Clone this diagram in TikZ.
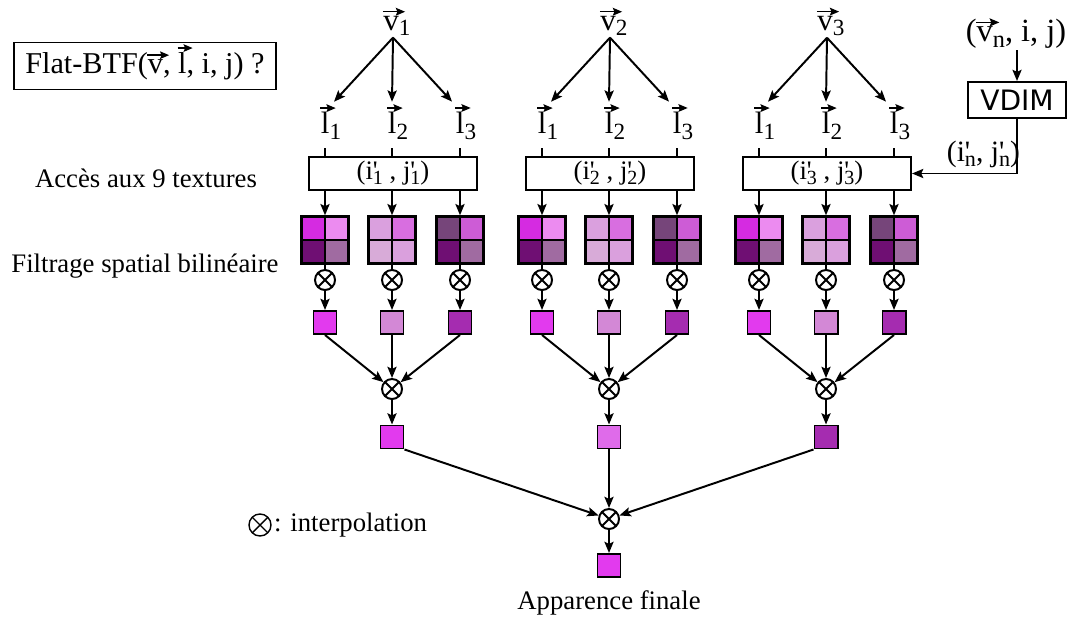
\documentclass[tikz,border=0pt]{standalone}
\usepackage{fontspec}
\setmainfont{Liberation Serif}
\newfontfamily\vdimfont{DejaVu Sans}
\usetikzlibrary{arrows.meta, positioning, calc}
\definecolor{texAa}{HTML}{D52BE1}
\definecolor{texAb}{HTML}{EC8BF0}
\definecolor{texAc}{HTML}{6F0F73}
\definecolor{texAd}{HTML}{A06BA1}
\definecolor{texBa}{HTML}{DAA0DE}
\definecolor{texBb}{HTML}{D86EE0}
\definecolor{texBc}{HTML}{D8ABD8}
\definecolor{texBd}{HTML}{DAA0DD}
\definecolor{texCa}{HTML}{76457A}
\definecolor{texCb}{HTML}{CD5CD6}
\definecolor{sqA}{HTML}{E23AEE}
\definecolor{sqB}{HTML}{D388D6}
\definecolor{sqC}{HTML}{A52CB0}
\definecolor{sqM}{HTML}{DF6BEA}
% letter with an arrow above it, a lowered index, a primed index
\newcommand{\vecarrow}[1]{\tikz[baseline=(ltr.base)]{\node[rectangle, inner sep=0pt, outer sep=0pt, minimum size=0pt, draw=none, fill=none, anchor=base] (ltr) at (0,0) {#1};
  \draw[overlay, line width=0.045em, -{Stealth[length=0.3em, width=0.25em, inset=0.05em]}] ([yshift=0.14em, xshift=-0.02em]ltr.north west) -- ([yshift=0.14em, xshift=0.2em]ltr.north east);}}
\newcommand{\idx}[1]{\raisebox{-0.4ex}{\scalebox{0.75}{#1}}}
\newcommand{\pidx}[2]{#1\rlap{\textquotesingle}\idx{#2}}
\tikzset{
  every picture/.style={line width=1.4pt},
  arrow/.style={-{Stealth[length=8pt, width=6.5pt, inset=1.5pt]}},
  lbl/.style={font=\fontsize{22}{26}\selectfont, inner sep=1pt},
  txt/.style={font=\fontsize{19}{22}\selectfont},
  coordbox/.style={draw, minimum width=4.2cm, minimum height=0.825cm, inner sep=0pt, font=\fontsize{19}{22}\selectfont},
  otimes/.style={circle, draw, fill=white, minimum size=0.5cm, inner sep=0pt,
    path picture={\draw (path picture bounding box.north west) -- (path picture bounding box.south east)
      (path picture bounding box.north east) -- (path picture bounding box.south west);}},
  sq/.style={draw, fill=#1, minimum size=0.575cm, inner sep=0pt},
  tex/.style n args={4}{draw, line width=1.7pt, minimum size=1.175cm, inner sep=0pt,
    path picture={
      \fill[#1] (path picture bounding box.north west) rectangle (path picture bounding box.center);
      \fill[#2] (path picture bounding box.north east) rectangle (path picture bounding box.center);
      \fill[#3] (path picture bounding box.south west) rectangle (path picture bounding box.center);
      \fill[#4] (path picture bounding box.south east) rectangle (path picture bounding box.center);
      \draw (path picture bounding box.north) -- (path picture bounding box.south)
        (path picture bounding box.west) -- (path picture bounding box.east);}},
  texA/.style={tex={texAa}{texAb}{texAc}{texAd}},
  texB/.style={tex={texBa}{texBb}{texBc}{texBd}},
  texC/.style={tex={texCa}{texCb}{texAc}{texAd}},
}
\begin{document}
\begin{tikzpicture}[x=0.025cm, y=-0.025cm]
  \useasboundingbox (0,0) rectangle (1070,618);
  \node[draw, minimum width=6.55cm, minimum height=1.175cm, font=\fontsize{21.5}{25}\selectfont] (query) at (145,66) {Flat-BTF(\vecarrow{v}, \vecarrow{l}, i, j) ?};
  \node[txt] (acces) at (146,178) {Accès aux 9 textures};
  \node[txt] (filtre) at (145,266) {Filtrage spatial bilinéaire};
  \node[otimes, minimum size=0.55cm, line width=1pt] (legsym) at (260,525) {};
  \node[txt, right=0pt of legsym, inner sep=1pt] (legend) {: interpolation};
  \foreach \g/\cx/\rc in {1/392/sqA, 2/609/sqM, 3/826/sqC} {
    \node[lbl] (v\g) at (\cx+5,26) {\vecarrow{v}\idx{\g}};
    \node[coordbox] (b\g) at (\cx+1,173.5) {(\pidx{i}{\g} , \pidx{j}{\g})};
    \node[otimes] (m\g) at (\cx,389) {};
    \node[sq=\rc] (r\g) at (\cx,437) {};
    \foreach \k/\dx/\ex/\tx/\sx in {1/-67/9/texA/sqA, 2/0/0/texB/sqB, 3/68/-8/texC/sqC} {
      \node[lbl] (l\g\k) at (\cx+\dx+6,126) {\vecarrow{l}\idx{\k}};
      \coordinate (q\g\k) at (\cx+\dx,148);
      \node[\tx] (t\g\k) at (\cx+\dx,240) {};
      \node[otimes] (c\g\k) at (\cx+\dx,280) {};
      \node[sq=\sx] (s\g\k) at (\cx+\dx,322.5) {};
      \draw[arrow] (v\g.south -| b\g.north) -- ($(q\g\k |- l\g\k.north)+(\ex,-9)$);
      \draw (q\g\k) -- (q\g\k |- b\g.north);
      \draw[arrow] (t\g\k |- b\g.south) -- (t\g\k);
      \draw (t\g\k) -- (c\g\k);
      \draw[arrow] (c\g\k) -- (s\g\k);
      \draw[arrow] (s\g\k.south) -- (m\g);
    }
    \draw[arrow] (m\g) -- (r\g);
  }
  \node[otimes] (fin) at (609,519) {};
  \node[sq=sqA] (res) at (609,565.5) {};
  \node[txt] (app) at (609,603) {Apparence finale};
  \draw[arrow] (r1.south east) -- (fin);
  \draw[arrow] (r2) -- (fin);
  \draw[arrow] (r3.south west) -- (fin);
  \draw[arrow] (fin) -- (res);
  % view-dependent index map
  \node[lbl, font=\fontsize{23}{27}\selectfont] (vn) at (1016,34) {(\vecarrow{v}\idx{n}, i, j)};
  \node[draw, minimum width=2.45cm, minimum height=0.9cm, inner sep=0pt, font=\vdimfont\fontsize{20}{24}\selectfont] (vdim) at (1017,100) {VDIM};
  \draw[arrow] (vdim.north |- vn.south) -- (vdim.north);
  \draw[arrow] (vdim.south) |- node[pos=0.66, above, font=\fontsize{21}{24}\selectfont] {(\pidx{i}{n}, \pidx{j}{n})} (b3.east);
\end{tikzpicture}
\end{document}
